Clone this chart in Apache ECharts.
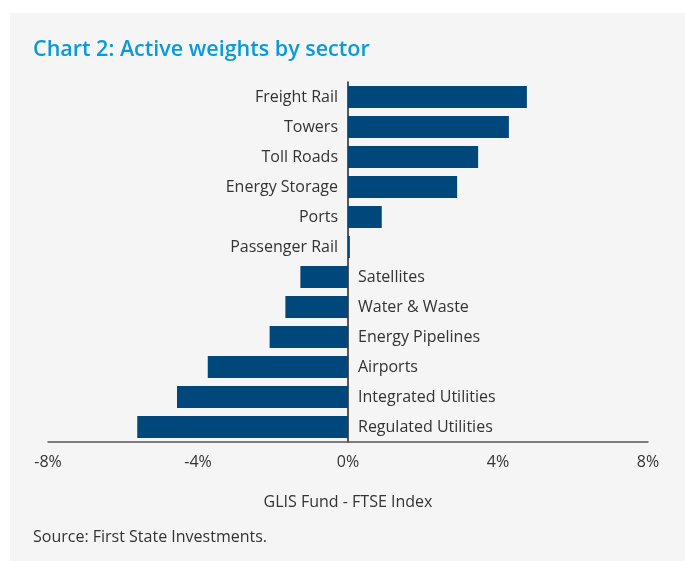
<!DOCTYPE html>
<html lang="en">
<head>
  <meta charset="UTF-8">
  <title>Active weights by sector</title>
  <script src="https://cdn.jsdelivr.net/npm/echarts@6/dist/echarts.min.js"></script>
</head>
<style>
  html, body { margin: 0; padding: 0; background: #fff; }
  #main { width: 685px; height: 561px; }
</style>
<body>
  <div id="main"></div>
  <script>
    // sectors, top to bottom
    var sectors = ['Freight Rail', 'Towers', 'Toll Roads', 'Energy Storage', 'Ports', 'Passenger Rail',
      'Satellites', 'Water & Waste', 'Energy Pipelines', 'Airports', 'Integrated Utilities', 'Regulated Utilities'];
    // active weight, GLIS Fund - FTSE Index (%)
    var weights = [4.77, 4.29, 3.47, 2.91, 0.9, 0.05, -1.27, -1.67, -2.09, -3.74, -4.56, -5.62];

    var myChart = echarts.init(document.getElementById('main'));

    var font = 'Open Sans';

    // labels sit on the opposite side of the zero line
    var barData = weights.map(function (v) {
      return { value: v, label: { position: v >= 0 ? 'left' : 'right' } };
    });

    var option = {
      animation: false,
      graphic: [
        {
          type: 'rect',
          z: -10,
          shape: { x: 10, y: 13, width: 675, height: 548 },
          style: { fill: '#f5f5f5' }
        }
      ],
      title: [
        {
          text: 'Chart 2: Active weights by sector',
          left: 28,
          top: 34,
          textStyle: { color: '#0a9ad7', fontSize: 21.5, fontWeight: 600, fontFamily: font }
        },
        {
          text: 'Source: First State Investments.',
          left: 28,
          top: 524,
          textStyle: { color: '#333', fontSize: 16, fontWeight: 'normal', fontFamily: font }
        }
      ],
      grid: { left: 48, right: 37, top: 82, bottom: 119, containLabel: false },
      xAxis: {
        type: 'value',
        min: -8,
        max: 8,
        interval: 4,
        name: 'GLIS Fund - FTSE Index',
        nameLocation: 'middle',
        nameGap: 52,
        nameTextStyle: { color: '#333', fontSize: 16, fontFamily: font },
        axisLine: { show: true, lineStyle: { color: '#555', width: 1.5 } },
        axisTick: { show: false },
        splitLine: { show: false },
        axisLabel: {
          formatter: '{value}%',
          margin: 12,
          color: '#333',
          fontSize: 16,
          fontFamily: font
        }
      },
      yAxis: {
        type: 'category',
        inverse: true,
        data: sectors,
        axisLine: { show: true, onZero: true, lineStyle: { color: '#222', width: 1.5 } },
        axisTick: { show: false },
        axisLabel: { show: false },
        splitLine: { show: false }
      },
      series: [
        {
          type: 'bar',
          data: barData,
          barCategoryGap: '27%',
          itemStyle: { color: '#00477b' },
          label: {
            show: true,
            formatter: '{b}',
            distance: 10,
            color: '#333',
            fontSize: 16,
            fontFamily: font
          }
        }
      ]
    };

    myChart.setOption(option);
  </script>
</body>
</html>
